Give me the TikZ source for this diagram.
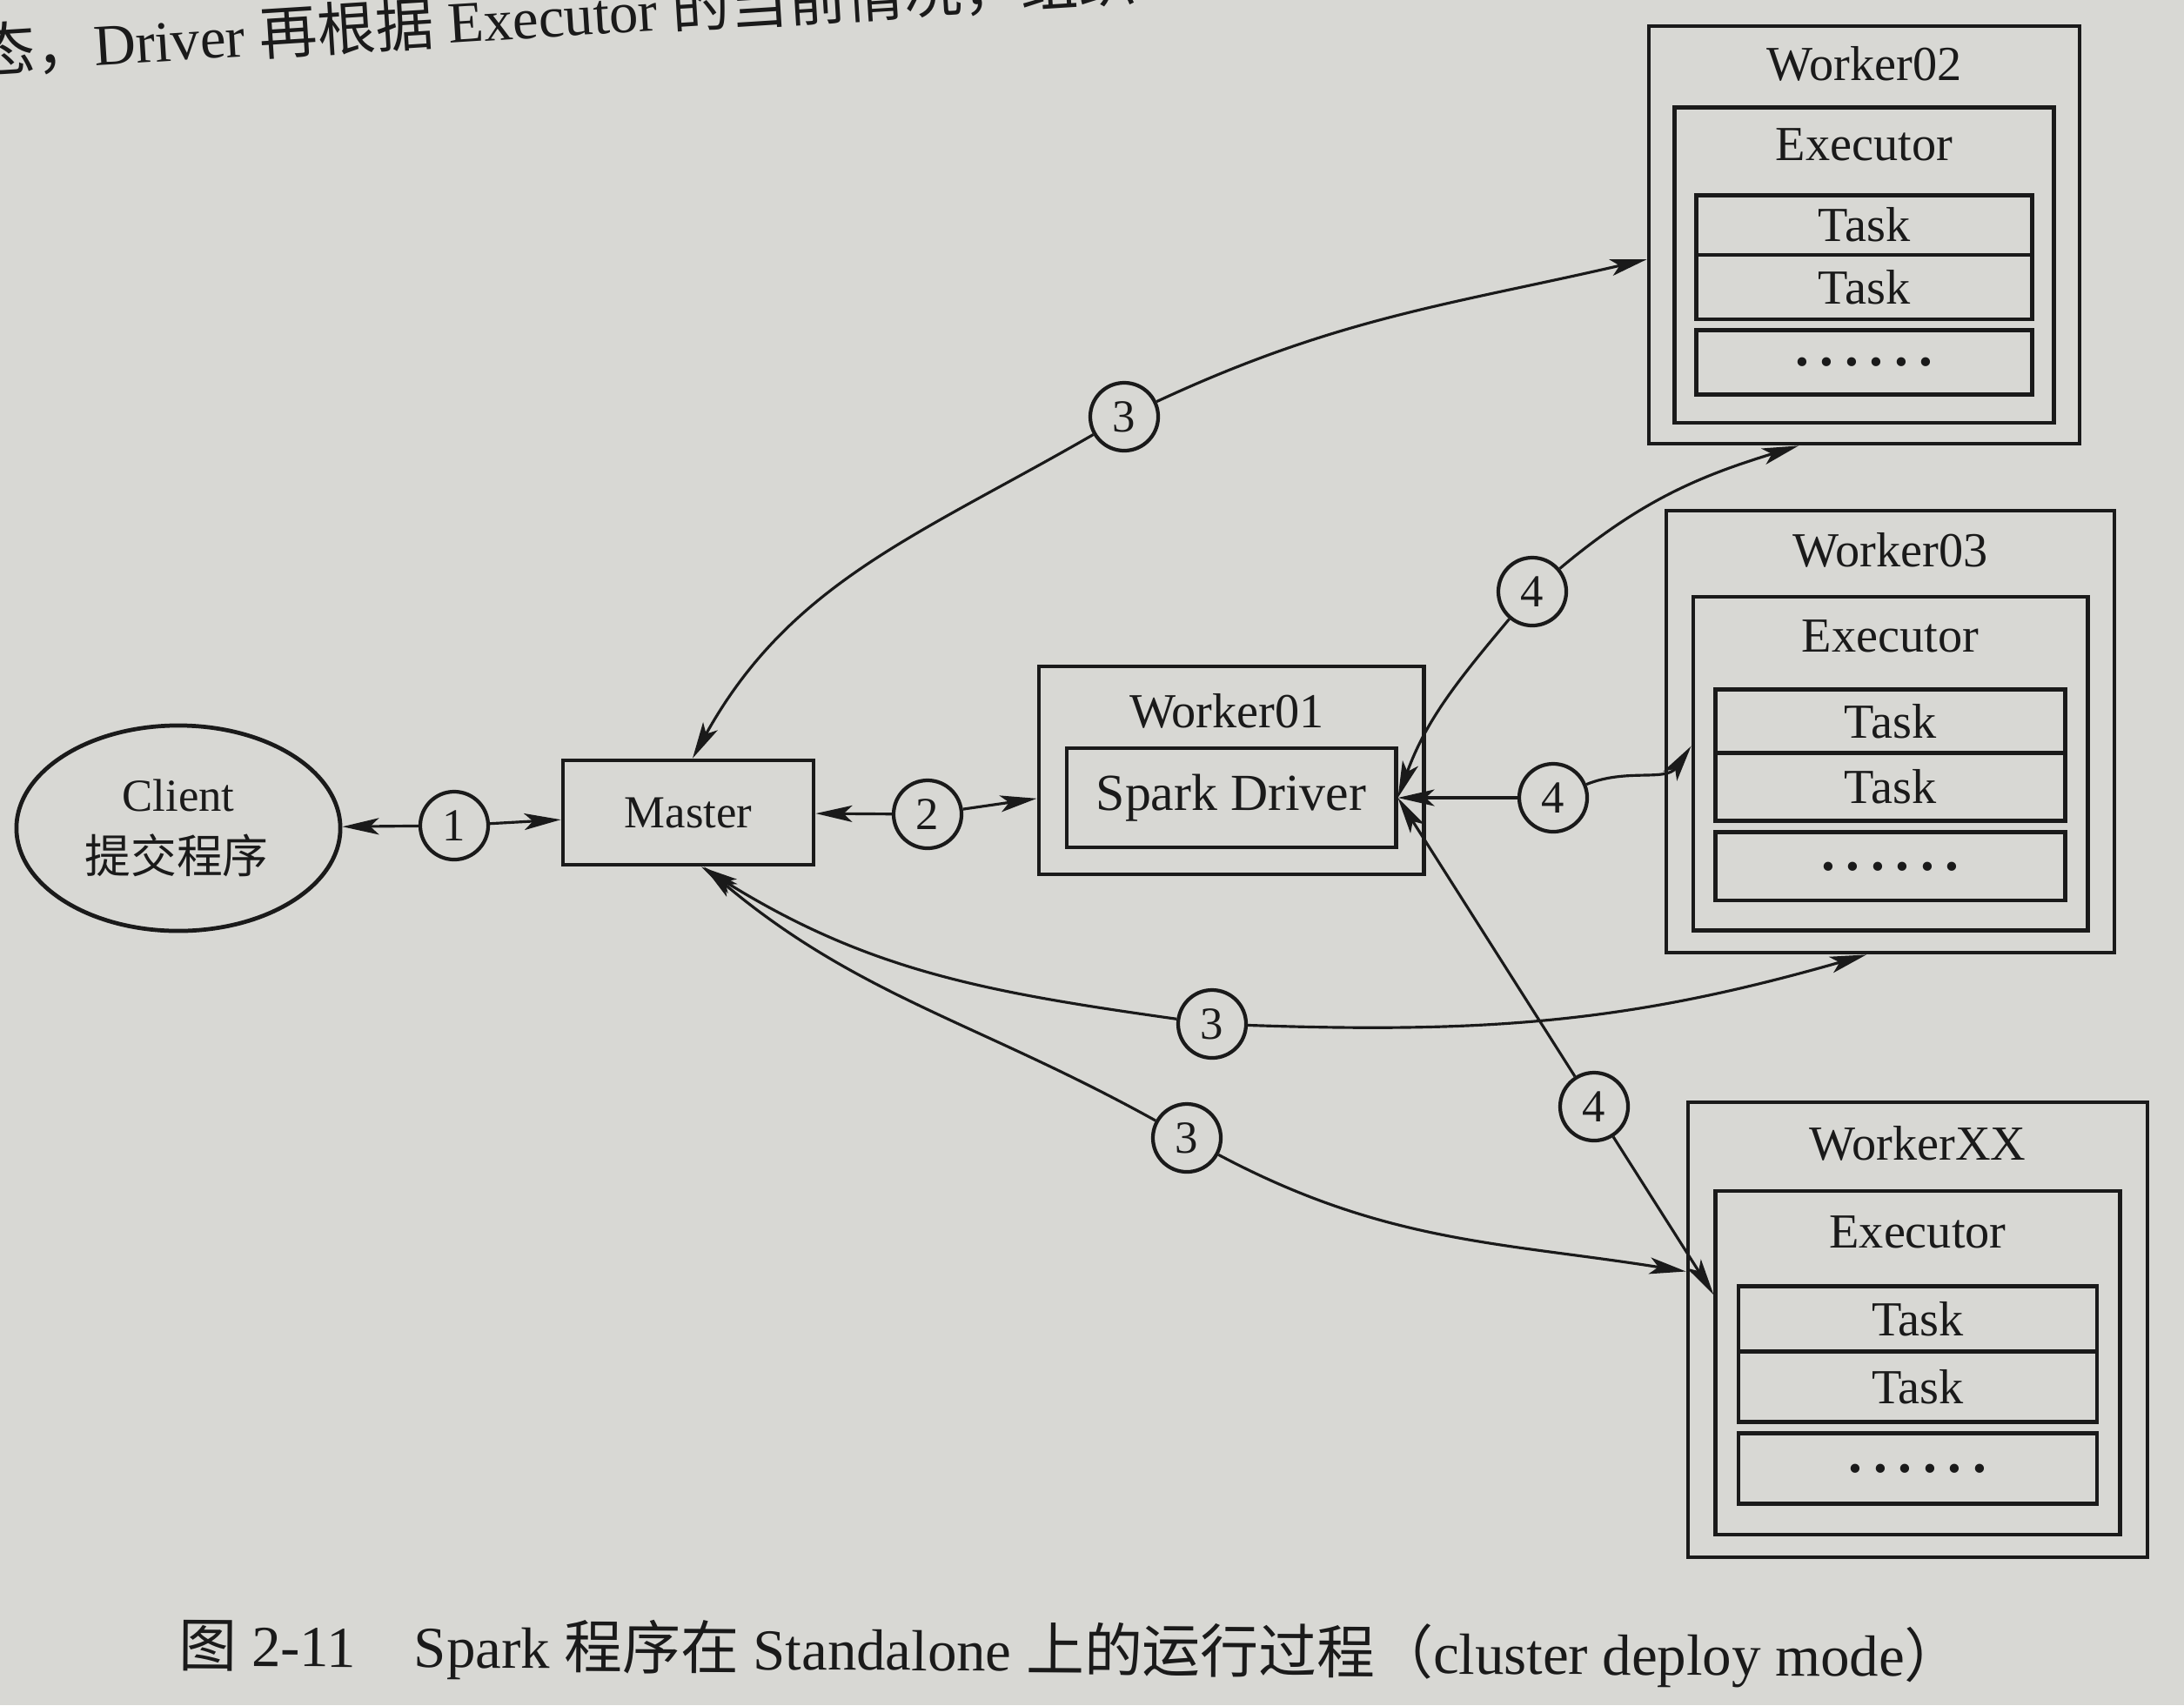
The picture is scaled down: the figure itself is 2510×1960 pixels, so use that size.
\documentclass[tikz,border=0pt]{standalone}
\usepackage{fontspec}
\setmainfont{Liberation Serif}
\newfontfamily\cjk{Noto Sans CJK SC}
\usetikzlibrary{arrows.meta,calc,shapes.geometric}
\definecolor{paper}{RGB}{216,216,212}
\definecolor{ink}{RGB}{26,26,26}
\newcommand{\sixdots}{\textbf{.\hspace{0.2em}.\hspace{0.2em}.\hspace{0.2em}.\hspace{0.2em}.\hspace{0.2em}.}}
\newcommand{\worker}[6]{%
  \pgfmathsetmacro{\wcx}{#2+#4/2}%
  \pgfmathsetmacro{\wcy}{#3+#5/2}%
  \node[wbox,minimum width=#4*0.01cm,minimum height=#5*0.01cm] (#1) at (\wcx,\wcy) {};
  \node[txt] (#1-lab) at (\wcx,#3+0.09*#5) {#6};
  \node[wbox,minimum width=0.88*#4*0.01cm,minimum height=0.755*#5*0.01cm] (#1-ex) at (\wcx,#3+0.5725*#5) {};
  \node[txt] (#1-exlab) at (\wcx,#3+0.285*#5) {Executor};
  \node[taskbox,minimum width=0.78*#4*0.01cm,minimum height=0.143*#5*0.01cm] (#1-t1) at (\wcx,#3+0.4765*#5) {Task};
  \node[taskbox,minimum width=0.78*#4*0.01cm,minimum height=0.154*#5*0.01cm] (#1-t2) at (\wcx,#3+0.625*#5) {Task};
  \node[taskbox,minimum width=0.78*#4*0.01cm,minimum height=0.154*#5*0.01cm,font=\fontsize{18}{20}\selectfont] (#1-t3) at (\wcx,#3+0.805*#5) {\sixdots};
}
\begin{document}
\begin{tikzpicture}[x=0.01cm,y=-0.01cm,
  wbox/.style={draw=ink,line width=1.35pt,rectangle,inner sep=0pt},
  txt/.style={text=ink,font=\fontsize{16}{19}\selectfont,inner sep=0pt},
  taskbox/.style={wbox,text=ink,font=\fontsize{16}{19}\selectfont},
  num/.style={draw=ink,circle,line width=1.2pt,minimum size=0.78cm,inner sep=0pt,text=ink,font=\fontsize{15}{18}\selectfont},
  conn/.style={draw=ink,line width=0.9pt,-{Stealth[length=0.42cm,width=0.19cm,inset=0.1cm]}},
  dashline/.style={draw=ink,line width=0.9pt,dash pattern=on 0.25cm off 0.18cm}]
\useasboundingbox (0,0) rectangle (2510,1960);
\clip (0,0) rectangle (2510,1960);
\fill[paper] (0,0) rectangle (2510,1960);

% running text at the top of the page
\node[anchor=base west,rotate=3.6,text=ink,inner sep=0pt,font=\fontsize{19}{22}\selectfont] (toptext) at (-25,84)
  {{\cjk 态，}Driver {\cjk 再根据} Executor {\cjk 的当前情况，组织}};

% client and master
\node[ellipse,draw=ink,line width=1.35pt,minimum width=3.72cm,minimum height=2.36cm] (client) at (205,952) {};
\node[txt,font=\fontsize{15}{18}\selectfont] (clientA) at (205,914) {Client};
\node[txt,font=\fontsize{15}{18}\selectfont\cjk] (clientB) at (203,983) {提交程序};
\node[wbox,minimum width=2.88cm,minimum height=1.2cm,text=ink,font=\fontsize{15}{18}\selectfont] (master) at (791,934) {Master};

% worker01
\node[wbox,minimum width=4.42cm,minimum height=2.39cm] (w1) at (1415,885.5) {};
\node[txt] (w1-lab) at (1410,817) {Worker01};
\node[wbox,minimum width=3.78cm,minimum height=1.14cm,text=ink,font=\fontsize{17}{20}\selectfont] (sd) at (1415,917) {Spark Driver};

% other workers
\worker{w2}{1895}{30}{495}{480}{Worker02}
\worker{w3}{1915}{587}{515}{508}{Worker03}
\worker{wx}{1940}{1267}{528}{523}{WorkerXX}

% step circles
\node[num] (c1) at (522,949) {1};
\node[num] (c2) at (1066,936) {2};
\node[num] (c3a) at (1292,479) {3};
\node[num] (c4a) at (1761,680) {4};
\node[num] (c4b) at (1785,917) {4};
\node[num] (c3b) at (1393,1177) {3};
\node[num] (c3c) at (1364,1308) {3};
\node[num] (c4c) at (1832,1272) {4};

% arrow end points
\coordinate (mtop) at ($(master.north)+(5,0)$);
\coordinate (mbot1) at ($(master.south)+(15,0)$);
\coordinate (mbot2) at ($(master.south)+(18,0)$);
\coordinate (w2l) at ($(w2.north west)!0.558!(w2.south west)$);
\coordinate (w2b) at ($(w2.south west)!0.349!(w2.south east)$);
\coordinate (w3exl) at ($(w3-ex.north west)!0.448!(w3-ex.south west)$);
\coordinate (w3b) at ($(w3.south west)!0.447!(w3.south east)$);
\coordinate (wxl) at ($(wx.north west)!0.373!(wx.south west)$);
\coordinate (wxexl) at ($(wx-ex.north west)!0.304!(wx-ex.south west)$);

% connectors
\draw[conn] (c1) -- (client);
\draw[conn] (c1) -- (master);
\draw[conn] (c2) -- (master);
\draw[conn] (c2) -- (w1);

\draw[conn] (c3a) to[out=210,in=61] (mtop);
\draw[conn] (c3a) to[out=25,in=193] (w2l);

\draw[conn] (c4a) to[out=40,in=197] (w2b);
\draw[conn] (c4a) to[out=230,in=70] (sd.east);

\draw[conn] (c4b) -- (sd.east);
\draw[conn] (c4b) to[out=22,in=235] (w3exl);

\draw[conn] (c4c) -- (sd.east);
\draw[conn] (c4c) -- (wxexl);

\draw[conn] (c3b) to[out=172,in=-32] (mbot1);
\draw[conn] (c3b) to[out=-2,in=196] (w3b);

\draw[conn] (c3c) to[out=151,in=-40] (mbot2);
\draw[conn] (c3c) to[out=-28,in=171] (wxl);

\draw[dashline] ($(w3.south)+(15,0)$) -- ($(w3.south)+(15,0)$ |- wx.north);

% caption
\node[anchor=base west,rotate=-0.35,text=ink,inner sep=0pt,font=\fontsize{19}{22}\selectfont] (cap) at (205,1915)
  {{\cjk 图} 2-11\quad Spark {\cjk 程序在} Standalone {\cjk 上的运行过程（}cluster deploy mode{\cjk ）}};
\end{tikzpicture}
\end{document}
